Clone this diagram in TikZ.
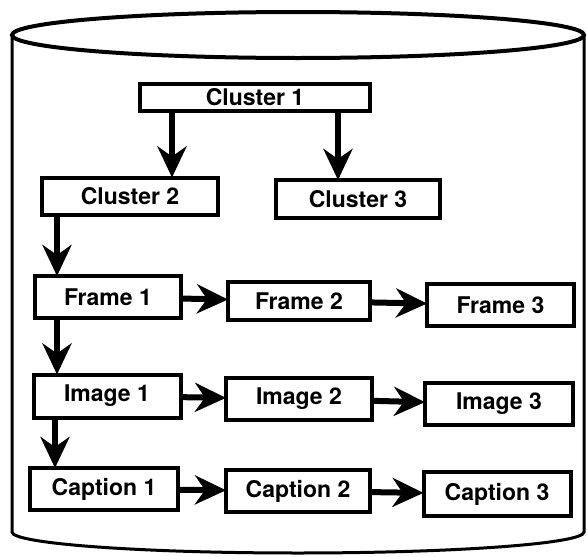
\documentclass[tikz,border=0pt]{standalone}
\usepackage{fontspec}
\setmainfont{TeX Gyre Heros}
\usetikzlibrary{arrows.meta}
\usetikzlibrary{positioning}

\begin{document}
\begin{tikzpicture}[x=1pt,y=-1pt,->,>={Stealth[length=31pt,width=29pt,inset=10pt]},
					node distance=48pt,line width=4pt]
					\tikzstyle{rec}=[draw,rectangle,inner sep=0pt,outer sep=0pt,minimum width=146pt,minimum height=42pt,
					font=\fontsize{23}{25}\selectfont\bfseries]
					\tikzstyle{link}=[line width=6pt]
					\useasboundingbox (0,0) rectangle (587,557);
					
					% the store
					\draw[-] (298,35) ellipse [x radius=286pt, y radius=23pt];
					\draw[-,line width=3pt] (12,35) -- (12,532) arc [start angle=180, end angle=360, x radius=286pt, y radius=21pt] -- (584,35);
					
					\node[rec,minimum width=230pt,minimum height=27pt] (C1) at (255,97) {Cluster 1};
					\node[rec,minimum width=176pt,minimum height=37pt] (C2) [below=67pt of C1,xshift=-125pt] {Cluster 2};
					\node[rec,minimum width=164pt,minimum height=38pt] (C3) [below=69.5pt of C1,xshift=103pt] {Cluster 3};
					
					\node[rec]         (F1) [below=61.5pt of C2,xshift=-22pt] {Frame 1};
					\node[rec,minimum width=142pt,minimum height=38pt] (F2) [right=47pt of F1,yshift=-4pt] {Frame 2};
					\node[rec,minimum width=147pt]         (F3) [right=57pt of F2,yshift=-4pt] {Frame 3};
					
					\node[rec,minimum width=147pt,minimum height=43pt] (I1) [below=56.5pt of F1,xshift=-1pt] {Image 1};
					\node[rec]         (I2) [right=45.5pt of I1,yshift=-3pt] {Image 2};
					\node[rec,minimum width=148pt]         (I3) [right=53pt of I2,yshift=-5pt] {Image 3};
					
					\node[rec,minimum width=148pt] (P1) [below=50.5pt of I1,xshift=-3pt] {Caption 1};
					\node[rec,minimum width=144pt] (P2) [right=48pt of P1,yshift=-2pt] {Caption 2};
					\node[rec,minimum width=147pt,minimum height=44pt] (P3) [right=53.5pt of P2,yshift=-3pt] {Caption 3};
					
					\path[link] ([xshift=42pt]C2.north |- C1.south) edge ([xshift=42pt]C2.north)
					([xshift=-20pt]C3.north |- C1.south) edge ([xshift=-20pt]C3.north)
					([xshift=-51pt]F1.north |- C2.south) edge ([xshift=-51pt]F1.north)
					([xshift=-51pt]F1.south) edge ([xshift=-50pt]I1.north)
					([xshift=-52pt]I1.south) edge ([xshift=-49pt]P1.north)
					(F1) edge (F2)
					(F2) edge (F3)
					(I1) edge (I2)
					(I2) edge (I3)
					(P1) edge (P2)
					(P2) edge (P3)
					;
\end{tikzpicture}
\end{document}
